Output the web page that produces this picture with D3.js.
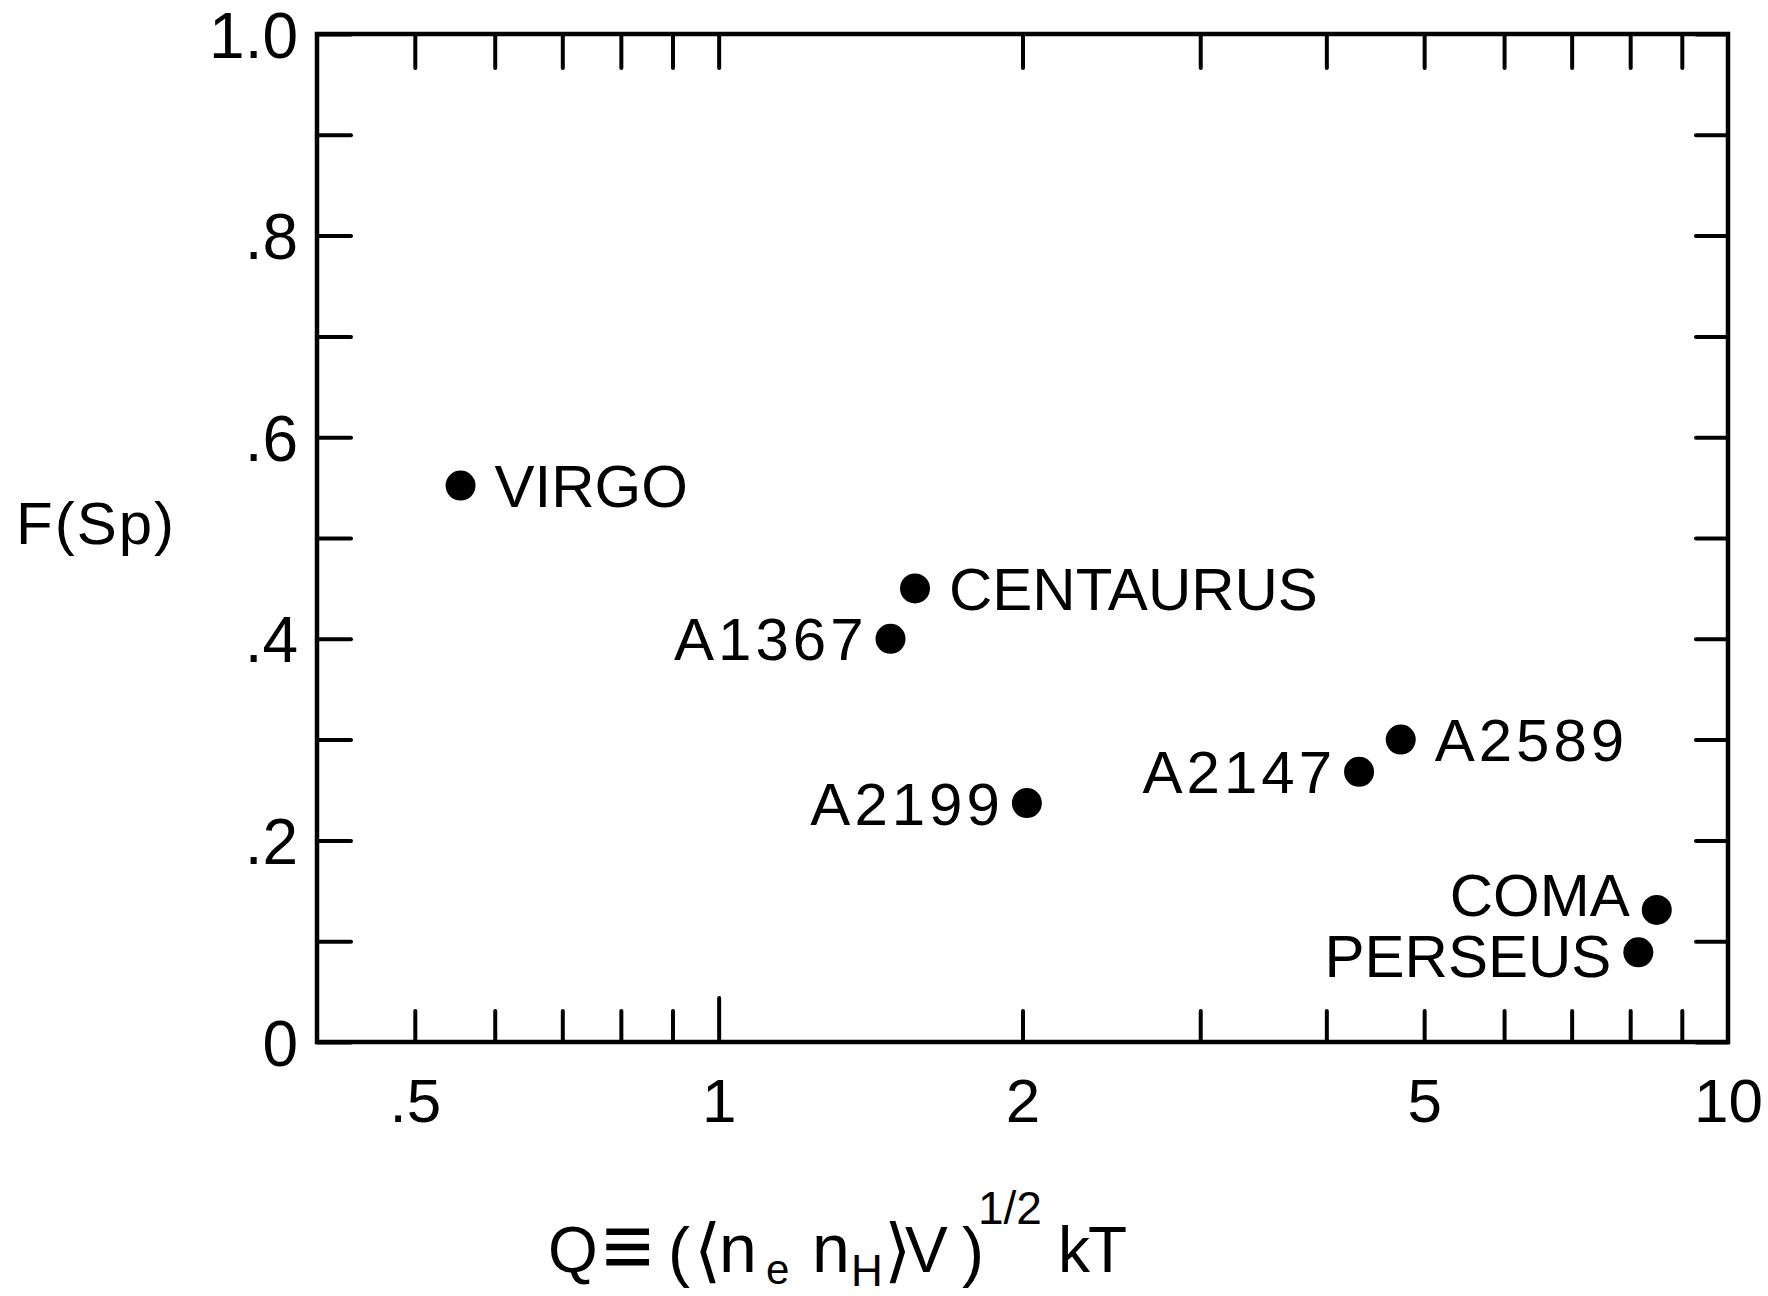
<!DOCTYPE html>
<html>
<head>
<meta charset="utf-8">
<script src="https://cdn.jsdelivr.net/npm/d3@7"></script>
<style>
  html, body { margin: 0; padding: 0; background: #fff; }
  svg { display: block; }
  text { font-family: "Liberation Sans", Arial, "DejaVu Sans", sans-serif; fill: #000; }
</style>
</head>
<body>
<svg id="chart" width="1768" height="1296"></svg>
<script>
// Cluster sample: Q (log axis) against F(Sp)
const clusters = ["VIRGO", "CENTAURUS", "A1367", "A2199", "A2147", "A2589", "COMA", "PERSEUS"];
const qValues  = [0.555, 1.565, 1.48, 2.02, 4.31, 4.74, 8.5, 8.15];
const fValues  = [0.552, 0.450, 0.400, 0.237, 0.268, 0.300, 0.131, 0.089];

// which side of its dot each name sits on, plus a small vertical nudge
const labelSide  = ["right", "right", "left", "left", "left", "right", "left", "left"];
const labelNudge = [0, 0, 0, 0, 0, 0, -16, 3];

// axis ticks and labels
const xTickValues  = [0.5, 0.6, 0.7, 0.8, 0.9, 1, 2, 3, 4, 5, 6, 7, 8, 9];
const xLabelValues = [0.5, 1, 2, 5, 10];
const xLabelText   = [".5", "1", "2", "5", "10"];
const yTickValues  = [0, 0.1, 0.2, 0.3, 0.4, 0.5, 0.6, 0.7, 0.8, 0.9, 1.0];
const yLabelValues = [0, 0.2, 0.4, 0.6, 0.8, 1.0];
const yLabelText   = ["0", ".2", ".4", ".6", ".8", "1.0"];

const svg = d3.select("#chart");
const plotL = 317, plotR = 1728, plotT = 34, plotB = 1042;

const x = d3.scaleLog().domain([0.4, 10]).range([plotL, plotR]);
const y = d3.scaleLinear().domain([0, 1]).range([plotB, plotT]);

const LW = 4.5;

// frame
svg.append("rect")
  .attr("x", plotL).attr("y", plotT)
  .attr("width", plotR - plotL).attr("height", plotB - plotT)
  .attr("fill", "none").attr("stroke", "#000").attr("stroke-width", LW);

function styleAxis(g) {
  g.select(".domain").remove();
  g.selectAll(".tick line")
    .attr("stroke", "#000").attr("stroke-width", 4).attr("stroke-linecap", "round");
}

// bottom axis: ticks only
const gBottom = svg.append("g").attr("transform", `translate(0,${plotB})`)
  .call(d3.axisBottom(x).tickValues(xTickValues).tickSizeInner(-31).tickSizeOuter(0).tickFormat(""));
styleAxis(gBottom);
gBottom.selectAll(".tick").filter(d => d === 1).select("line").attr("y2", -44);

// bottom axis labels
const xLab = svg.append("g").attr("transform", `translate(0,${plotB})`)
  .call(d3.axisBottom(x).tickValues(xLabelValues).tickSize(0).tickPadding(36)
    .tickFormat(d => xLabelText[xLabelValues.indexOf(d)]));
xLab.select(".domain").remove();
xLab.selectAll("text").attr("font-size", 62).attr("font-family", null);

// top axis
const gTop = svg.append("g").attr("transform", `translate(0,${plotT})`)
  .call(d3.axisTop(x).tickValues(xTickValues).tickSizeInner(-34).tickSizeOuter(0).tickFormat(""));
styleAxis(gTop);

// left axis
const gLeft = svg.append("g").attr("transform", `translate(${plotL},0)`)
  .call(d3.axisLeft(y).tickValues(yTickValues).tickSizeInner(-34).tickSizeOuter(0).tickPadding(19)
    .tickFormat(d => {
      const i = yLabelValues.findIndex(v => Math.abs(v - d) < 1e-9);
      return i >= 0 ? yLabelText[i] : "";
    }));
styleAxis(gLeft);
gLeft.selectAll("text").attr("font-size", 64).attr("font-family", null).attr("dy", "0.36em");

// right axis
const gRight = svg.append("g").attr("transform", `translate(${plotR},0)`)
  .call(d3.axisRight(y).tickValues(yTickValues).tickSizeInner(-32).tickSizeOuter(0).tickFormat(""));
styleAxis(gRight);

// data points
const pts = clusters.map((name, i) => ({ name, q: qValues[i], f: fValues[i], side: labelSide[i], nudge: labelNudge[i] }));

svg.append("g").selectAll("circle").data(pts).join("circle")
  .attr("cx", d => x(d.q)).attr("cy", d => y(d.f)).attr("r", 15).attr("fill", "#000");

svg.append("g").selectAll("text").data(pts).join("text")
  .attr("x", d => d.side === "right" ? x(d.q) + 34 : x(d.q) - 27)
  .attr("y", d => y(d.f) + d.nudge)
  .attr("dy", "0.36em")
  .attr("text-anchor", d => d.side === "right" ? "start" : "end")
  .attr("font-size", 60)
  .attr("letter-spacing", d => /\d/.test(d.name) ? "4px" : "0px")
  .attr("dx", d => (/\d/.test(d.name) && d.side === "left") ? 4 : 0)
  .text(d => d.name);

// y-axis title
svg.append("text")
  .attr("x", 16).attr("y", 544)
  .attr("font-size", 60).attr("letter-spacing", "2px")
  .text("F(Sp)");

// x-axis title: Q ≡ ( ⟨n_e n_H⟩ V )^{1/2} kT
const title = svg.append("text").attr("font-size", 62);
const base = 1272;
const parts = [
  { t: "Q",   x: 548, y: base, s: 64 },
  { t: "\u2261", x: 602, y: base + 4, s: 88 },
  { t: "(",   x: 668, y: base + 2, s: 66 },
  { t: "\u27E8", x: 694, y: base + 2, s: 70 },
  { t: "n",   x: 719, y: base, s: 68 },
  { t: "e",   x: 766, y: 1284, s: 42 },
  { t: "n",   x: 812, y: base, s: 68 },
  { t: "H",   x: 851, y: 1286, s: 44 },
  { t: "\u27E9", x: 884, y: base + 2, s: 70 },
  { t: "V",   x: 905, y: base, s: 64 },
  { t: ")",   x: 962, y: base + 2, s: 66 },
  { t: "1/2", x: 978, y: 1224, s: 46 },
  { t: "k",   x: 1058, y: base, s: 64 },
  { t: "T",   x: 1088, y: base, s: 64 }
];
title.selectAll("tspan").data(parts).join("tspan")
  .attr("x", d => d.x).attr("y", d => d.y).attr("font-size", d => d.s)
  .text(d => d.t);
</script>
</body>
</html>
